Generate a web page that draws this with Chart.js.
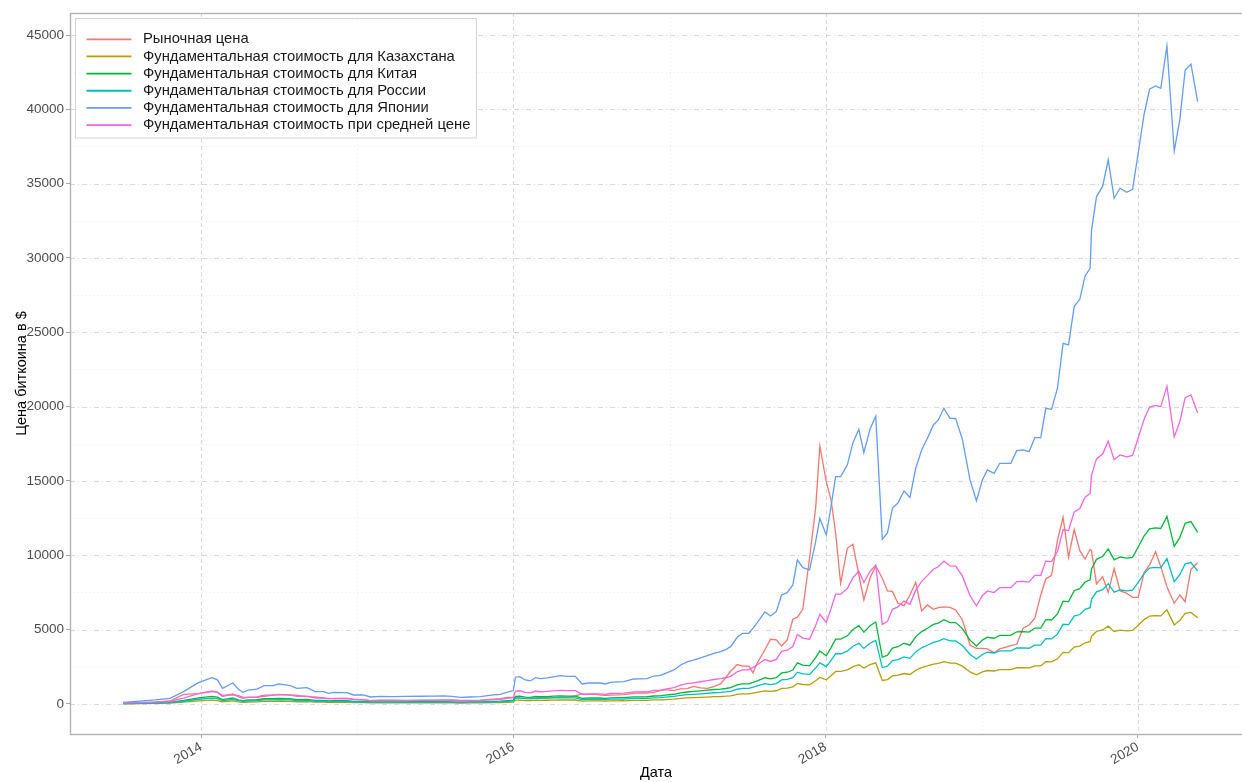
<!DOCTYPE html>
<html>
<head>
<meta charset="utf-8">
<title>Цена биткоина</title>
<script src="https://cdn.jsdelivr.net/npm/chart.js@4.4.1/dist/chart.umd.min.js"></script>
<style>
  html, body { margin: 0; padding: 0; background: #ffffff; }
  #wrap { width: 1242px; height: 782px; }
</style>
</head>
<body>
<div id="wrap"><canvas id="chart" width="1242" height="782"></canvas></div>
<script>
// Observation dates as decimal years
const dates = [
  2013.502, 2013.609, 2013.705, 2013.801, 2013.887, 2013.983, 2014.069, 2014.104, 2014.137, 2014.203,
  2014.239, 2014.267, 2014.303, 2014.357, 2014.404, 2014.463, 2014.496, 2014.571, 2014.613, 2014.678,
  2014.731, 2014.784, 2014.816, 2014.848, 2014.934, 2014.976, 2015.040, 2015.083, 2015.147, 2015.231,
  2015.314, 2015.404, 2015.487, 2015.551, 2015.609, 2015.660, 2015.724, 2015.788, 2015.872, 2015.917,
  2015.962, 2016.000, 2016.013, 2016.040, 2016.077, 2016.109, 2016.141, 2016.173, 2016.216, 2016.256,
  2016.301, 2016.344, 2016.397, 2016.440, 2016.483, 2016.519, 2016.558, 2016.590, 2016.622, 2016.667,
  2016.707, 2016.771, 2016.814, 2016.857, 2016.899, 2016.942, 2016.974, 2017.028, 2017.071, 2017.113,
  2017.154, 2017.199, 2017.242, 2017.284, 2017.327, 2017.359, 2017.391, 2017.434, 2017.466, 2017.508,
  2017.535, 2017.562, 2017.611, 2017.647, 2017.684, 2017.718, 2017.754, 2017.790, 2017.819, 2017.854,
  2017.897, 2017.936, 2017.963, 2018.004, 2018.035, 2018.064, 2018.096, 2018.139, 2018.175, 2018.213,
  2018.245, 2018.284, 2018.321, 2018.363, 2018.396, 2018.428, 2018.463, 2018.502, 2018.540, 2018.577,
  2018.615, 2018.652, 2018.690, 2018.722, 2018.758, 2018.797, 2018.833, 2018.876, 2018.925, 2018.966,
  2019.004, 2019.036, 2019.079, 2019.115, 2019.151, 2019.186, 2019.224, 2019.265, 2019.303, 2019.340,
  2019.378, 2019.410, 2019.447, 2019.485, 2019.521, 2019.556, 2019.592, 2019.628, 2019.662, 2019.694,
  2019.703, 2019.735, 2019.774, 2019.810, 2019.848, 2019.886, 2019.929, 2019.966, 2020.002, 2020.040,
  2020.075, 2020.113, 2020.147, 2020.186, 2020.233, 2020.269, 2020.303, 2020.340, 2020.383
];

// Market price, $
const market = [
  90, 100, 125, 200, 650, 700, 850, 800, 580, 620,
  560, 460, 440, 450, 520, 600, 630, 610, 580, 500,
  470, 400, 380, 360, 370, 320, 270, 220, 240, 260,
  230, 240, 240, 270, 280, 235, 235, 250, 330, 360,
  440, 430, 430, 390, 380, 420, 410, 420, 420, 430,
  450, 450, 540, 680, 650, 660, 590, 580, 600, 610,
  630, 710, 740, 730, 780, 900, 960, 900, 1010, 1030,
  1180, 1080, 1050, 1165, 1345, 1750, 2200, 2650, 2550, 2550,
  2100, 2750, 3650, 4350, 4310, 3900, 4310, 5700, 5840, 6370,
  9800, 13165, 17355, 14950, 13720, 11500, 8120, 10470, 10740, 8680,
  7000, 8455, 9285, 8455, 7600, 7575, 6775, 6615, 7330, 8185,
  6255, 6660, 6370, 6480, 6525, 6500, 6325, 5650, 3970, 3745,
  3740, 3700, 3450, 3700, 3810, 3925, 4015, 5090, 5315, 5765,
  7330, 8410, 8650, 11000, 12560, 9870, 11750, 10315, 9755, 10405,
  10300, 8070, 8565, 7510, 9110, 7620, 7445, 7175, 7175, 8835,
  9350, 10245, 9235, 7890, 6775, 7330, 6880, 9050, 9500
];

// Fundamental value, Kazakhstan
const kazakhstan = [
  16, 27, 39, 54, 119, 205, 253, 232, 150, 202,
  142, 112, 134, 143, 176, 176, 192, 176, 150, 157,
  119, 119, 103, 112, 109, 87, 87, 67, 74, 72,
  72, 74, 76, 77, 73, 64, 67, 72, 87, 93,
  114, 129, 257, 263, 231, 222, 253, 243, 250, 262,
  272, 266, 266, 192, 202, 202, 202, 192, 208, 212,
  215, 240, 242, 243, 269, 276, 295, 327, 375, 404,
  422, 443, 465, 488, 503, 522, 551, 641, 680, 680,
  729, 782, 885, 847, 889, 1048, 1071, 1145, 1386, 1311,
  1289, 1562, 1786, 1626, 1902, 2186, 2186, 2299, 2514, 2643,
  2418, 2643, 2767, 1584, 1645, 1885, 1933, 2049, 1985, 2267,
  2443, 2555, 2684, 2732, 2844, 2748, 2746, 2545, 2155, 1956,
  2155, 2251, 2219, 2315, 2315, 2315, 2437, 2443, 2427, 2562,
  2562, 2844, 2834, 3037, 3469, 3453, 3822, 3892, 4117, 4191,
  4553, 4881, 4976, 5234, 4865, 4961, 4922, 4951, 5297, 5673,
  5913, 5945, 5922, 6329, 5320, 5624, 6099, 6156, 5794
];

// Fundamental value, China
const china = [
  31, 54, 77, 108, 237, 409, 504, 462, 299, 402,
  282, 224, 266, 285, 351, 351, 383, 351, 299, 314,
  237, 237, 205, 224, 217, 172, 172, 134, 147, 143,
  144, 148, 151, 154, 145, 128, 134, 143, 172, 185,
  228, 257, 513, 524, 460, 442, 504, 485, 499, 522,
  543, 530, 530, 383, 402, 402, 402, 383, 415, 422,
  428, 479, 482, 485, 536, 550, 589, 653, 748, 805,
  841, 882, 926, 972, 1003, 1040, 1099, 1278, 1355, 1355,
  1454, 1559, 1764, 1687, 1771, 2089, 2135, 2281, 2762, 2613,
  2569, 3112, 3560, 3240, 3791, 4358, 4358, 4583, 5010, 5267,
  4819, 5267, 5515, 3158, 3278, 3756, 3853, 4084, 3956, 4517,
  4869, 5093, 5349, 5445, 5669, 5478, 5472, 5073, 4295, 3899,
  4295, 4486, 4422, 4614, 4614, 4614, 4856, 4869, 4836, 5106,
  5106, 5669, 5649, 6053, 6914, 6883, 7618, 7758, 8205, 8353,
  9074, 9727, 9918, 10431, 9696, 9887, 9810, 9867, 10558, 11306,
  11785, 11847, 11803, 12614, 10602, 11209, 12155, 12269, 11548
];

// Fundamental value, Russia
const russia = [
  24, 42, 60, 84, 183, 317, 391, 358, 232, 312,
  219, 173, 207, 221, 272, 272, 297, 272, 232, 243,
  183, 183, 159, 173, 168, 134, 134, 104, 114, 111,
  112, 115, 117, 119, 113, 99, 104, 111, 134, 144,
  177, 199, 398, 407, 357, 343, 391, 376, 387, 404,
  421, 411, 411, 297, 312, 312, 312, 297, 322, 327,
  332, 371, 373, 376, 415, 427, 456, 506, 580, 624,
  652, 684, 718, 754, 778, 807, 852, 991, 1051, 1051,
  1127, 1209, 1368, 1308, 1374, 1620, 1655, 1769, 2141, 2027,
  1992, 2413, 2760, 2513, 2939, 3379, 3379, 3554, 3885, 4084,
  3737, 4084, 4276, 2449, 2542, 2913, 2988, 3167, 3067, 3503,
  3776, 3949, 4148, 4222, 4396, 4248, 4243, 3934, 3330, 3023,
  3330, 3479, 3429, 3578, 3578, 3578, 3766, 3776, 3750, 3959,
  3959, 4396, 4380, 4694, 5361, 5337, 5907, 6016, 6363, 6478,
  7037, 7543, 7691, 8089, 7518, 7666, 7607, 7651, 8187, 8767,
  9138, 9187, 9153, 9781, 8221, 8692, 9426, 9514, 8955
];

// Fundamental value, Japan
const japan = [
  110, 190, 270, 380, 830, 1435, 1770, 1620, 1050, 1410,
  990, 785, 935, 1000, 1230, 1230, 1345, 1230, 1050, 1100,
  830, 830, 720, 785, 760, 605, 605, 470, 515, 500,
  505, 520, 530, 540, 510, 450, 470, 500, 605, 650,
  800, 900, 1800, 1840, 1615, 1550, 1770, 1700, 1750, 1830,
  1905, 1860, 1860, 1345, 1410, 1410, 1410, 1345, 1455, 1480,
  1500, 1680, 1690, 1700, 1880, 1930, 2065, 2290, 2625, 2825,
  2950, 3095, 3250, 3410, 3520, 3650, 3855, 4485, 4755, 4755,
  5100, 5470, 6190, 5920, 6215, 7330, 7490, 8005, 9690, 9170,
  9015, 10920, 12490, 11370, 13300, 15290, 15290, 16080, 17580, 18480,
  16910, 18480, 19350, 11080, 11500, 13180, 13520, 14330, 13880, 15850,
  17085, 17870, 18770, 19105, 19890, 19220, 19200, 17800, 15070, 13680,
  15070, 15740, 15515, 16190, 16190, 16190, 17040, 17085, 16970, 17915,
  17915, 19890, 19820, 21240, 24260, 24150, 26730, 27220, 28790, 29310,
  31840, 34130, 34800, 36600, 34020, 34690, 34420, 34620, 37045, 39670,
  41350, 41570, 41415, 44260, 37200, 39330, 42650, 43050, 40520
];

// Fundamental value at the average electricity price
const average = [
  53, 92, 130, 184, 401, 693, 855, 782, 507, 681,
  478, 379, 452, 483, 594, 594, 650, 594, 507, 531,
  401, 401, 348, 379, 367, 292, 292, 227, 249, 242,
  244, 251, 256, 261, 246, 217, 227, 242, 292, 314,
  386, 435, 869, 889, 780, 749, 855, 821, 845, 884,
  920, 898, 898, 650, 681, 681, 681, 650, 703, 715,
  725, 811, 816, 821, 908, 932, 997, 1106, 1268, 1364,
  1425, 1495, 1570, 1647, 1700, 1763, 1862, 2166, 2297, 2297,
  2463, 2642, 2990, 2859, 3002, 3540, 3618, 3866, 4680, 4429,
  4354, 5274, 6033, 5492, 6424, 7385, 7385, 7767, 8491, 8926,
  8168, 8926, 9346, 5352, 5555, 6366, 6530, 6921, 6704, 7656,
  8252, 8631, 9066, 9228, 9607, 9283, 9274, 8597, 7279, 6607,
  7279, 7602, 7494, 7820, 7820, 7820, 8230, 8252, 8197, 8653,
  8653, 9607, 9573, 10259, 11718, 11664, 12911, 13147, 13906, 14157,
  15379, 16485, 16808, 17678, 16432, 16755, 16625, 16721, 17893, 19161,
  19972, 20078, 20003, 21378, 17968, 18996, 20600, 20793, 19571
];

const seriesNames = [
  'Рыночная цена',
  'Фундаментальная стоимость для Казахстана',
  'Фундаментальная стоимость для Китая',
  'Фундаментальная стоимость для России',
  'Фундаментальная стоимость для Японии',
  'Фундаментальная стоимость при средней цене'
];
const seriesValues = [market, kazakhstan, china, russia, japan, average];
const seriesColors = ['#F8766D', '#B79F00', '#00BA38', '#00BFC4', '#619CFF', '#F564E3'];

const xTicks = [2014, 2016, 2018, 2020];
const xMinorTicks = [2015, 2017, 2019];
const yTicks = [0, 5000, 10000, 15000, 20000, 25000, 30000, 35000, 40000, 45000];
const yMinorTicks = [2500, 7500, 12500, 17500, 22500, 27500, 32500, 37500, 42500];

const FONT = '"Liberation Sans", Arial, Helvetica, sans-serif';
Chart.defaults.font.family = FONT;

// Panel background grid (major dash-dot, minor dotted) and frame
const panelGrid = {
  id: 'panelGrid',
  beforeDatasetsDraw(chart) {
    const { ctx, chartArea: a, scales: { x, y } } = chart;
    const seg = (x1, y1, x2, y2) => { ctx.beginPath(); ctx.moveTo(x1, y1); ctx.lineTo(x2, y2); ctx.stroke(); };
    ctx.save();
    ctx.lineWidth = 1;
    ctx.strokeStyle = '#ebebeb';
    ctx.setLineDash([1, 3]);
    yMinorTicks.forEach(v => { const p = Math.round(y.getPixelForValue(v)) + 0.5; seg(a.left, p, a.right, p); });
    xMinorTicks.forEach(v => { const p = Math.round(x.getPixelForValue(v)) + 0.5; seg(p, a.top, p, a.bottom); });
    ctx.strokeStyle = '#d9d9d9';
    ctx.setLineDash([5, 3, 1, 3]);
    yTicks.forEach(v => { const p = Math.round(y.getPixelForValue(v)) + 0.5; seg(a.left, p, a.right, p); });
    ctx.setLineDash([4, 3]);
    xTicks.forEach(v => { const p = Math.round(x.getPixelForValue(v)) + 0.5; seg(p, a.top, p, a.bottom); });
    ctx.setLineDash([]);
    ctx.strokeStyle = '#b3b3b3';
    ctx.lineWidth = 1.4;
    ctx.strokeRect(a.left + 0.5, a.top + 0.5, a.right - a.left + 2, a.bottom - a.top);
    ctx.restore();
  }
};

// Framed legend in the upper-left corner of the panel
const boxedLegend = {
  id: 'boxedLegend',
  afterDatasetsDraw(chart) {
    const { ctx, chartArea: a } = chart;
    const sets = chart.data.datasets;
    ctx.save();
    ctx.font = '14.8px ' + FONT;
    const left = a.left + 5.5, top = a.top + 5.5;
    const lineX0 = a.left + 16.5, lineX1 = a.left + 61.5, textX = a.left + 73;
    const firstY = a.top + 26.3, pitch = 17.15;
    const textW = Math.max(...sets.map(d => ctx.measureText(d.label).width));
    const right = textX + textW + 6;
    const bottom = firstY + pitch * (sets.length - 1) + 13;
    ctx.fillStyle = '#ffffff';
    ctx.fillRect(left, top, right - left, bottom - top);
    ctx.strokeStyle = '#d4d4d4';
    ctx.lineWidth = 1;
    ctx.strokeRect(left, top, right - left, bottom - top);
    ctx.textBaseline = 'middle';
    sets.forEach((d, i) => {
      const yc = firstY + pitch * i;
      ctx.strokeStyle = d.borderColor;
      ctx.lineWidth = 1.8;
      ctx.beginPath(); ctx.moveTo(lineX0, yc); ctx.lineTo(lineX1, yc); ctx.stroke();
      ctx.fillStyle = '#1a1a1a';
      ctx.fillText(d.label, textX, yc);
    });
    ctx.restore();
  }
};

const datasets = seriesNames.map((name, i) => ({
  label: name,
  data: dates.map((d, k) => ({ x: d, y: seriesValues[i][k] })),
  borderColor: seriesColors[i],
  backgroundColor: seriesColors[i],
  borderWidth: 1.3,
  pointRadius: 0,
  tension: 0,
  fill: false,
  order: seriesNames.length - i
}));

new Chart(document.getElementById('chart'), {
  type: 'line',
  data: { datasets },
  plugins: [panelGrid, boxedLegend],
  options: {
    responsive: false,
    animation: false,
    devicePixelRatio: 1,
    layout: { padding: { top: 13, right: 0, bottom: 0, left: 0 } },
    plugins: { legend: { display: false }, tooltip: { enabled: false } },
    scales: {
      x: {
        type: 'linear',
        min: 2013.16,
        max: 2020.667,
        afterBuildTicks: s => { s.ticks = xTicks.map(v => ({ value: v })); },
        afterFit: s => { s.height = 48; },
        ticks: {
          autoSkip: false, minRotation: 30, maxRotation: 30, padding: 1,
          color: '#4d4d4d', font: { size: 13.5 },
          callback: v => String(v)
        },
        grid: { drawOnChartArea: false, drawTicks: true, tickLength: 4, tickColor: '#a6a6a6', tickWidth: 1 },
        border: { display: false },
        title: { display: true, text: 'Дата', color: '#000000', font: { size: 14.5 }, padding: { top: 0, bottom: 0 } }
      },
      y: {
        type: 'linear',
        min: -2020,
        max: 46480,
        afterBuildTicks: s => { s.ticks = yTicks.map(v => ({ value: v })); },
        afterFit: s => { s.width = 70; },
        ticks: { padding: 2, color: '#4d4d4d', font: { size: 13.5 }, callback: v => String(v) },
        grid: { drawOnChartArea: false, drawTicks: true, tickLength: 4, tickColor: '#a6a6a6', tickWidth: 1 },
        border: { display: false },
        title: { display: true, text: 'Цена биткоина в $', color: '#000000', font: { size: 14.5 }, padding: { top: 13, bottom: 0 } }
      }
    }
  }
});
</script>
</body>
</html>
